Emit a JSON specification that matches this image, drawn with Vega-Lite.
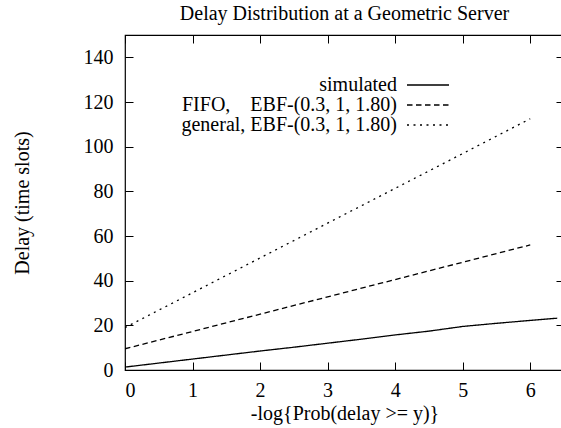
{
  "$schema": "https://vega.github.io/schema/vega-lite/v6.json",
  "width": 439,
  "height": 335,
  "autosize": "none",
  "padding": {"left": 125, "top": 35, "right": 0, "bottom": 58},
  "background": "white",
  "title": {"text": "Delay Distribution at a Geometric Server", "font": "Liberation Serif", "fontSize": 20, "fontWeight": "normal", "anchor": "middle", "offset": 11, "color": "black"},
  "config": {
    "font": "Liberation Serif",
    "view": {"stroke": "black", "strokeWidth": 1.2},
    "axis": {
      "grid": false,
      "domain": false,
      "tickColor": "black",
      "tickSize": -8,
      "tickWidth": 1,
      "labelFont": "Liberation Serif",
      "labelFontSize": 20,
      "labelColor": "black",
      "titleFont": "Liberation Serif",
      "titleFontSize": 20,
      "titleFontWeight": "normal",
      "titleColor": "black"
    },
    "legend": {
      "labelFont": "Liberation Serif",
      "labelFontSize": 20,
      "labelColor": "black",
      "labelLimit": 0
    }
  },
  "data": {"values": [
    {"series": "simulated", "x": 0, "y": 1.3},
    {"series": "simulated", "x": 0.5, "y": 3.1},
    {"series": "simulated", "x": 1, "y": 4.9},
    {"series": "simulated", "x": 1.5, "y": 6.7},
    {"series": "simulated", "x": 2, "y": 8.5},
    {"series": "simulated", "x": 2.5, "y": 10.2},
    {"series": "simulated", "x": 3, "y": 12},
    {"series": "simulated", "x": 3.5, "y": 13.8},
    {"series": "simulated", "x": 4, "y": 15.7},
    {"series": "simulated", "x": 4.5, "y": 17.4},
    {"series": "simulated", "x": 5, "y": 19.5},
    {"series": "simulated", "x": 5.5, "y": 20.9},
    {"series": "simulated", "x": 6, "y": 22.2},
    {"series": "simulated", "x": 6.4, "y": 23.2},
    {"series": "FIFO,\u00a0\u00a0\u00a0\u00a0EBF-(0.3, 1, 1.80)", "x": 0, "y": 9.5},
    {"series": "FIFO,\u00a0\u00a0\u00a0\u00a0EBF-(0.3, 1, 1.80)", "x": 6, "y": 56},
    {"series": "general, EBF-(0.3, 1, 1.80)", "x": 0, "y": 19},
    {"series": "general, EBF-(0.3, 1, 1.80)", "x": 6, "y": 112.5}
  ]},
  "layer": [
    {
      "mark": {"type": "line", "color": "black", "strokeWidth": 1.3, "clip": true},
      "encoding": {
        "x": {"field": "x", "type": "quantitative", "scale": {"domain": [0, 6.5], "nice": false, "zero": false},
              "axis": {"orient": "bottom", "title": "-log{Prob(delay >= y)}", "values": [0, 1, 2, 3, 4, 5, 6], "labelPadding": 18, "titlePadding": 3}},
        "y": {"field": "y", "type": "quantitative", "scale": {"domain": [0, 150], "nice": false},
              "axis": {"orient": "left", "title": "Delay (time slots)", "values": [0, 20, 40, 60, 80, 100, 120, 140], "labelPadding": 20, "titlePadding": 51}},
        "strokeDash": {"field": "series", "type": "nominal",
          "scale": {"domain": ["simulated", "FIFO,\u00a0\u00a0\u00a0\u00a0EBF-(0.3, 1, 1.80)", "general, EBF-(0.3, 1, 1.80)"], "range": [[1, 0], [5.5, 3.5], [2, 4.5]]},
          "legend": {"title": null, "orient": "none", "legendX": 293, "legendY": 40, "padding": 0, "symbolType": "M-2.625,0H2.625", "symbolSize": 256, "symbolStrokeWidth": 1.3, "symbolStrokeColor": "black", "symbolFillColor": "transparent", "labelAlign": "right", "labelOffset": -41, "rowPadding": -2}}
      }
    },
    {
      "mark": {"type": "point", "opacity": 0},
      "encoding": {
        "x": {"field": "x", "type": "quantitative", "axis": {"orient": "top", "title": null, "labels": false, "values": [0, 1, 2, 3, 4, 5, 6]}},
        "y": {"field": "y", "type": "quantitative", "axis": {"orient": "right", "title": null, "labels": false, "values": [0, 20, 40, 60, 80, 100, 120, 140]}}
      }
    }
  ]
}
